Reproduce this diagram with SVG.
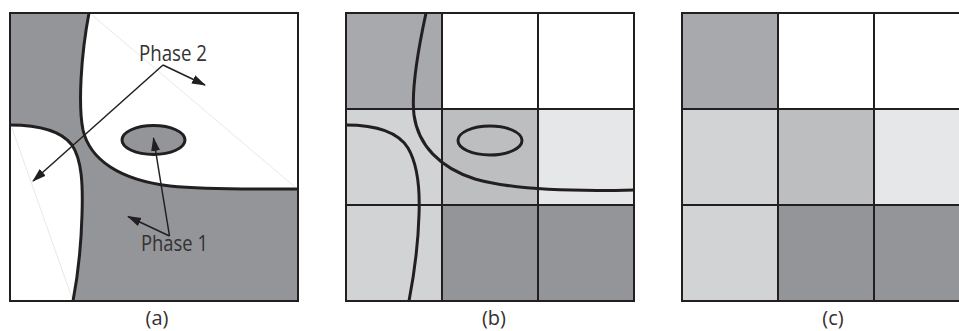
<svg xmlns="http://www.w3.org/2000/svg" width="959" height="331" viewBox="0 0 959 331">
<defs>
<style>
.bd{fill:none;stroke:#231f20;stroke-width:2}
.cv{fill:none;stroke:#231f20;stroke-width:3}
.ar{fill:none;stroke:#231f20;stroke-width:1.5}
.hl{fill:none;stroke:#d9d9d9;stroke-width:0.6}
.lb{font-family:"Open Sans","Liberation Sans",sans-serif;font-size:21px;fill:#333132}
.cap{font-family:"Open Sans","Liberation Sans",sans-serif;font-size:20px;fill:#333132;text-anchor:middle}
.g1{fill:#a7a9ac}.w{fill:#ffffff}.l1{fill:#d1d3d4}.l2{fill:#bcbec0}.l3{fill:#e6e7e8}.d{fill:#939598}
</style>
<marker id="ah" markerUnits="userSpaceOnUse" markerWidth="15" markerHeight="10" refX="13" refY="5" orient="auto">
<path d="M0,0.5 L14,5 L0,9.5 Z" fill="#231f20"/>
</marker>
</defs>
<rect width="959" height="331" fill="#ffffff"/>

<g id="panel-a">
<rect x="10" y="13" width="288" height="288" class="d"/>
<path class="w" d="M89,13 C81,55 78,105 83,130 C90,160 120,180 170,186 C210,190 250,189 298,189 L298,13 Z"/>
<path class="w" d="M10,125 C40,125 62,132 72,145 C82,160 83,185 82,215 C81,250 78,275 73,301 L10,301 Z"/>
<line class="hl" x1="92" y1="15" x2="295" y2="187"/>
<line class="hl" x1="12" y1="128" x2="72" y2="298"/>
<path class="cv" d="M89,13 C81,55 78,105 83,130 C90,160 120,180 170,186 C210,190 250,189 298,189"/>
<path class="cv" d="M10,125 C40,125 62,132 72,145 C82,160 83,185 82,215 C81,250 78,275 73,301"/>
<ellipse cx="153.5" cy="140" rx="31.5" ry="14.5" fill="#939598" stroke="#231f20" stroke-width="3"/>
<rect x="10" y="13" width="288" height="288" class="bd"/>
<text class="lb" x="139" y="61" textLength="68" lengthAdjust="spacingAndGlyphs">Phase 2</text>
<text class="lb" x="141" y="251" textLength="67" lengthAdjust="spacingAndGlyphs">Phase 1</text>
<text class="cap" x="157" y="325">(a)</text>
</g>

<g id="panel-b">
<rect x="346" y="13" width="96" height="96" class="g1"/>
<rect x="442" y="13" width="96" height="96" class="w"/>
<rect x="538" y="13" width="96" height="96" class="w"/>
<rect x="346" y="109" width="96" height="96" class="l1"/>
<rect x="442" y="109" width="96" height="96" class="l2"/>
<rect x="538" y="109" width="96" height="96" class="l3"/>
<rect x="346" y="205" width="96" height="96" class="l1"/>
<rect x="442" y="205" width="96" height="96" class="d"/>
<rect x="538" y="205" width="96" height="96" class="d"/>
<path class="bd" d="M442,13 V301 M538,13 V301 M346,109 H634 M346,205 H634"/>
<path class="cv" d="M426,13 C418,50 411,90 414,115 C418,145 440,168 475,179 C510,189 560,192 634,190"/>
<path class="cv" d="M346,125 C375,125 398,132 408,148 C418,165 420,190 419,215 C418,250 414,275 409,301"/>
<ellipse cx="490" cy="140.5" rx="32" ry="14.5" fill="none" stroke="#231f20" stroke-width="3"/>
<rect x="346" y="13" width="288" height="288" class="bd"/>
<text class="cap" x="494" y="325">(b)</text>
</g>

<g id="panel-c">
<rect x="682" y="13" width="96" height="96" class="g1"/>
<rect x="778" y="13" width="96" height="96" class="w"/>
<rect x="874" y="13" width="96" height="96" class="w"/>
<rect x="682" y="109" width="96" height="96" class="l1"/>
<rect x="778" y="109" width="96" height="96" class="l2"/>
<rect x="874" y="109" width="96" height="96" class="l3"/>
<rect x="682" y="205" width="96" height="96" class="l1"/>
<rect x="778" y="205" width="96" height="96" class="d"/>
<rect x="874" y="205" width="96" height="96" class="d"/>
<path class="bd" d="M778,13 V301 M874,13 V301 M682,109 H970 M682,205 H970"/>
<rect x="682" y="13" width="288" height="288" class="bd"/>
<text class="cap" x="833" y="325">(c)</text>
</g>

<g id="connectors">
<path class="ar" d="M163,65 L205,85" marker-end="url(#ah)"/>
<path class="ar" d="M163,65 L33,181" marker-end="url(#ah)"/>
<path class="ar" d="M169.5,236 L128,216.5" marker-end="url(#ah)"/>
<path class="ar" d="M169.5,236 L153.5,138" marker-end="url(#ah)"/>
</g>
</svg>
